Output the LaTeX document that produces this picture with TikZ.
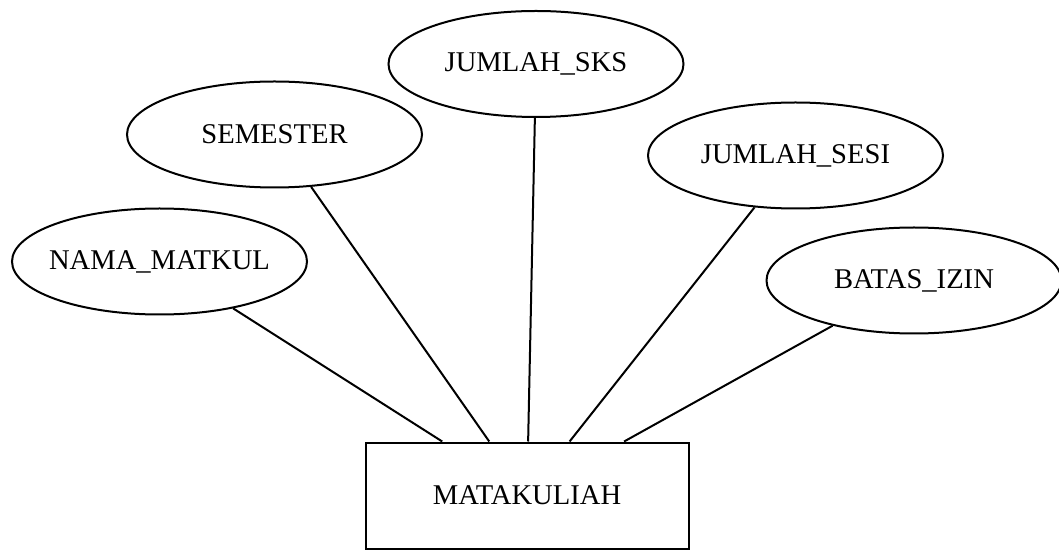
\documentclass[tikz,border=0pt]{standalone}
\usepackage{fontspec}
\setmainfont{Liberation Serif}
\usetikzlibrary{shapes,positioning}
\tikzset{
	auto,semithick,
	attr/.style ={ellipse, draw, line width=1pt, inner xsep=-20pt, inner ysep=0pt, minimum width=147.5pt, minimum height=53pt, font=\fontsize{14.3}{17}\selectfont},
	entity/.style ={rectangle, draw, line width=1pt, inner sep=0pt, minimum width=161.5pt, minimum height=53pt, font=\fontsize{14.3}{17}\selectfont},
	link/.style = {line width=1pt}
}
\begin{document}
\begin{tikzpicture}[x=0.5pt,y=-0.5pt]
    \useasboundingbox (0,0) rectangle (1059,550);
    \node[entity] (mk) at (527,495.5) {MATAKULIAH};
    \node[attr] (nama) at (159.5,261.5) {NAMA\_MATKUL};
    \node[attr] (sem) at (274.5,134.5) {SEMESTER};
    \node[attr] (sks) at (536,64) {JUMLAH\_SKS};
    \node[attr] (sesi) at (795.5,155.5) {JUMLAH\_SESI};
    \node[attr] (batas) at (914,280.5) {BATAS\_IZIN};

    \path[link] (nama) edge (mk);
    \path[link] (sem) edge (mk);
    \path[link] (sks) edge (mk);
    \path[link] (sesi) edge (mk);
    \path[link] (batas) edge (mk);
\end{tikzpicture}
\end{document}
